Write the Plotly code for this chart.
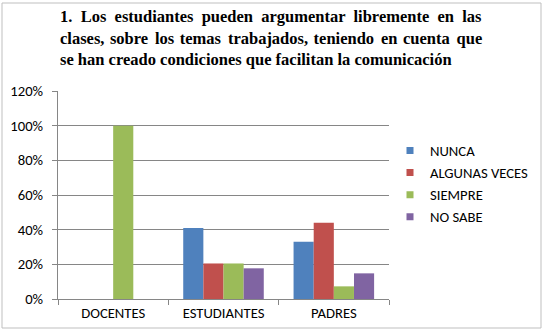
import plotly.graph_objects as go

categories = ["DOCENTES", "ESTUDIANTES", "PADRES"]
nunca = [0, 41, 33]
algunas = [0, 20.5, 44]
siempre = [100, 20.5, 7.3]
no_sabe = [0, 17.7, 14.8]
series_names = ["NUNCA", "ALGUNAS VECES", "SIEMPRE", "NO SABE"]
colors = ["#4F81BD", "#C0504D", "#9BBB59", "#8064A2"]
title_lines = [
    "1. Los estudiantes pueden argumentar libremente en las",
    "clases, sobre los temas trabajados, teniendo en cuenta que",
    "se han creado condiciones que facilitan la comunicación",
]
yticks = [0, 20, 40, 60, 80, 100, 120]

W, H = 546, 330
L, R, T, B = 58, 389, 91, 299
SANS = "Carlito, Lato, sans-serif"
SERIF = "Liberation Serif, Times New Roman, serif"

def px2x(px):
    return (px - L) / (R - L)

def px2y(py):
    return (B - py) / (B - T)

fig = go.Figure()
for name, vals, c in zip(series_names, [nunca, algunas, siempre, no_sabe], colors):
    fig.add_trace(go.Bar(name=name, x=categories, y=[v / 100 for v in vals], marker_color=c,
                         marker_line_width=0, showlegend=False))
# legend entries with small square swatches
for name, c in zip(series_names, colors):
    fig.add_trace(go.Scatter(name=name, x=[None], y=[None], mode="markers",
                             marker=dict(symbol="square", size=7, color=c)))

fig.update_layout(
    width=W, height=H,
    margin=dict(l=L, r=W - R, t=T, b=H - B, autoexpand=False),
    paper_bgcolor="white", plot_bgcolor="white",
    barmode="group", bargap=0.27, bargroupgap=0,
    font=dict(family=SANS, size=14.67, color="#000"),
    showlegend=True,
    legend=dict(x=px2x(390), y=px2y(184), xanchor="left", yanchor="middle",
                font=dict(size=14.67), itemwidth=30, tracegroupgap=0,
                bgcolor="rgba(0,0,0,0)"),
)
fig.update_yaxes(range=[0, 1.2], tickvals=[v / 100 for v in yticks],
                 ticktext=[f"{v}%" for v in yticks],
                 showgrid=True, gridcolor="#868686", gridwidth=1,
                 showline=True, linecolor="#868686", linewidth=1,
                 ticks="outside", ticklen=5, tickcolor="#868686",
                 ticklabelstandoff=6, automargin=False,
                 zeroline=False, fixedrange=True)
fig.update_xaxes(showline=True, linecolor="#868686", linewidth=1,
                 ticks="outside", ticklen=5, tickcolor="#868686",
                 tickson="boundaries", automargin=False, fixedrange=True)

fig.add_shape(type="rect", xref="paper", yref="paper",
              x0=px2x(2), x1=px2x(541), y0=px2y(328), y1=px2y(3),
              line=dict(color="#BFBFBF", width=1), fillcolor="rgba(0,0,0,0)")

def justify(line, extras):
    words = line.split(" ")
    out = words[0]
    for i, w in enumerate(words[1:]):
        out += " " + extras[i % len(extras)] + w
    return out

extras = [["\u2005"], ["\u200a", "\u2006"], [""]]
for line, yc, ex in zip(title_lines, [17, 38, 59], extras):
    txt = justify(line, ex)
    fig.add_annotation(text=f"<b>{txt}</b>", xref="paper", yref="paper",
                       x=px2x(58), y=px2y(yc), xanchor="left", yanchor="middle",
                       showarrow=False,
                       font=dict(family=SERIF, size=16.5, color="#000"))

fig.write_html("out.html")
